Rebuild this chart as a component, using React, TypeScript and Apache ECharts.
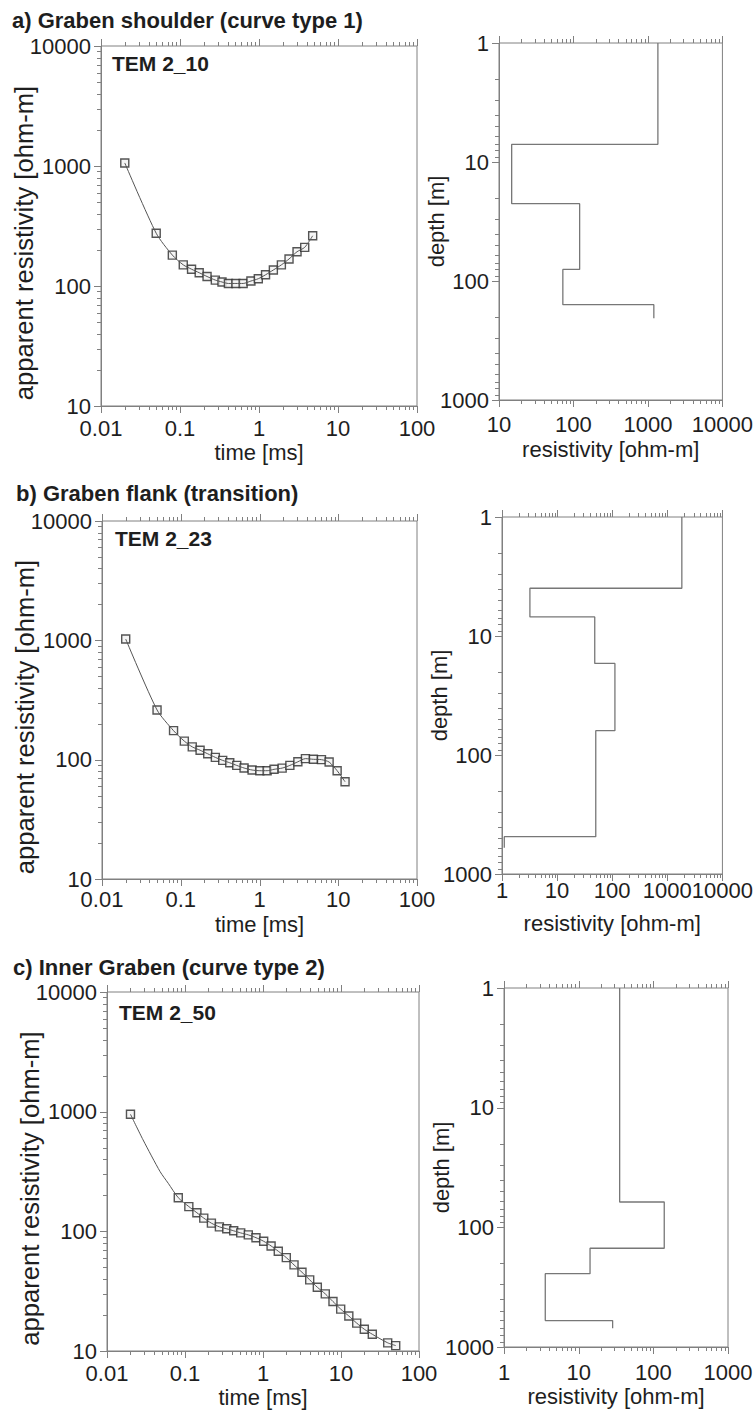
import React, { useEffect, useRef } from "react";
import * as echarts from "echarts";

const FONT = "'Liberation Sans', Arial, Helvetica, sans-serif";
const TEXT = "#1e1e1e";
const AXIS = "#808080";

// ---- panel a: TEM 2_10 ----
const timeA = [0.02, 0.05, 0.08, 0.11, 0.14, 0.175, 0.22, 0.28, 0.34, 0.41, 0.51, 0.63, 0.79, 0.98, 1.21, 1.52, 1.92, 2.4, 3.03, 3.79, 4.78];
const rhoA = [1060, 275, 181, 150, 138, 129, 120, 112, 108, 105, 105, 105, 110, 115, 124, 136, 150, 168, 193, 210, 262];
const layerResA = [1360, 14.8, 121, 72, 1200];
const layerBaseA = [7.1, 22.4, 80, 158, 206];

// ---- panel b: TEM 2_23 ----
const timeB = [0.02, 0.05, 0.081, 0.111, 0.14, 0.176, 0.22, 0.275, 0.341, 0.419, 0.514, 0.637, 0.805, 1.01, 1.25, 1.53, 1.94, 2.43, 3.07, 3.83, 4.84, 6.12, 7.66, 9.68, 12.2];
const rhoB = [1025, 261, 175, 143, 128, 120, 112, 104.5, 98.6, 94.2, 89.5, 85.1, 81.9, 80.8, 80.8, 83, 85, 89.5, 96, 102, 100.7, 100, 95.5, 80.8, 65.3];
const layerResB = [1835, 3.21, 48.2, 112, 50.3, 1.1];
const layerBaseB = [3.97, 6.92, 17.0, 62.5, 486, 601];

// ---- panel c: TEM 2_50 ----
const timeC = [0.02, 0.082, 0.112, 0.142, 0.174, 0.218, 0.276, 0.343, 0.421, 0.518, 0.648, 0.813, 1.02, 1.27, 1.57, 1.99, 2.5, 3.16, 3.97, 4.97, 6.29, 7.89, 9.91, 12.6, 15.9, 19.9, 25.2, 39.7, 50.3];
const rhoC = [951, 191, 161, 143, 129, 117, 109, 105, 101, 97, 93.4, 88.5, 82.6, 75.5, 68.2, 60.3, 52.4, 45.5, 39.3, 34.1, 30.0, 25.9, 22.4, 19.6, 17.1, 15.2, 13.8, 11.7, 11.1];
const modelEarlyTimeC = [0.02, 0.029, 0.048, 0.061];
const modelEarlyRhoC = [951, 581, 315, 252];
const layerResC = [35.4, 140, 14.2, 3.57, 28.5];
const layerBaseC = [61.4, 149.6, 244, 601, 697];

const panelTitles = ["a) Graben shoulder (curve type 1)", "b) Graben flank (transition)", "c) Inner Graben (curve type 2)"];
const stationNames = ["TEM 2_10", "TEM 2_23", "TEM 2_50"];
const timeRange = [0.01, 100];
const rhoAppRange = [10, 10000];
const depthRange = [1, 1000];
const resRanges = [[10, 10000], [1, 10000], [1, 1000]];

const xName = "time [ms]";
const yName = "apparent resistivity [ohm-m]";
const depthName = "depth [m]";
const resName = "resistivity [ohm-m]";

// layout (pixels)
const leftGrids = [
  { left: 101, top: 46, width: 316, height: 360 },
  { left: 102, top: 521, width: 315, height: 358 },
  { left: 107, top: 992, width: 312, height: 359 },
];
const rightGrids = [
  { left: 499, top: 43, width: 224, height: 357 },
  { left: 502, top: 517, width: 221, height: 357 },
  { left: 504, top: 988, width: 224, height: 359 },
];
const leftLabelMargin = [14, 12, 14];
const leftNameGap = [35, 34, 35];
const rightLabelMargin = [16, 8, 17];
const titlePos = [[12, 20], [16, 493], [13, 967]];
const stationPos = [[112, 63], [115, 538], [119, 1012]];

function zip(a: number[], b: number[]) {
  return a.map((v, i) => [v, b[i]]);
}
function stepProfile(res: number[], base: number[]) {
  const pts: number[][] = [];
  let top = 1;
  res.forEach((r, i) => {
    pts.push([r, top]);
    pts.push([r, base[i]]);
    top = base[i];
  });
  return pts;
}
function logTicks(min: number, max: number) {
  const out: { v: number; major: boolean }[] = [];
  const d0 = Math.round(Math.log10(min));
  const d1 = Math.round(Math.log10(max));
  for (let d = d0; d <= d1; d++) {
    for (let m = 1; m <= 9; m++) {
      const v = m * Math.pow(10, d);
      if (v > max * 1.0001) break;
      out.push({ v, major: m === 1 });
    }
  }
  return out;
}
function fmt(v: number) {
  const e = Math.round(Math.log10(v));
  return e < 0 ? v.toFixed(-e) : String(Math.round(v));
}

export default function App() {
  const ref = useRef<HTMLDivElement>(null);
  useEffect(() => {
    if (!ref.current) return;
    const chart = echarts.init(ref.current, undefined, { renderer: "svg" });

    const grids: any[] = [];
    const xAxes: any[] = [];
    const yAxes: any[] = [];
    const series: any[] = [];
    const graphics: any[] = [];

    const labelStyle = { color: TEXT, fontSize: 22, lineHeight: 16, fontFamily: FONT };
    const nameStyle = (size: number) => ({ color: TEXT, fontSize: size, fontFamily: FONT });

    const addTicks = (idx: number, xr: number[], yr: number[]) => {
      const data: number[][] = [];
      logTicks(xr[0], xr[1]).forEach((t) => data.push([t.v, yr[0], 0, t.major ? 1 : 0]));
      logTicks(yr[0], yr[1]).forEach((t) => data.push([xr[0], t.v, 1, t.major ? 1 : 0]));
      series.push({
        type: "custom",
        xAxisIndex: idx,
        yAxisIndex: idx,
        silent: true,
        clip: false,
        data,
        renderItem: (params: any, api: any) => {
          const cs = params.coordSys;
          const p = api.coord([api.value(0), api.value(1)]);
          const len = api.value(3) === 1 ? 7 : 4;
          const style = { stroke: AXIS, lineWidth: 1 };
          if (api.value(2) === 1) {
            const y = Math.round(p[1]) + 0.5;
            return { type: "line", shape: { x1: cs.x, y1: y, x2: cs.x - len, y2: y }, style };
          }
          const x = Math.round(p[0]) + 0.5;
          return {
            type: "group",
            children: [
              { type: "line", shape: { x1: x, y1: cs.y + cs.height, x2: x, y2: cs.y + cs.height + len }, style },
              { type: "line", shape: { x1: x, y1: cs.y, x2: x, y2: cs.y - len }, style },
            ],
          };
        },
      });
    };

    const curves = [
      { t: timeA, r: rhoA, model: zip(timeA, rhoA) },
      { t: timeB, r: rhoB, model: zip(timeB, rhoB) },
      { t: timeC, r: rhoC, model: zip(modelEarlyTimeC, modelEarlyRhoC).concat(zip(timeC, rhoC).slice(1)) },
    ];
    const layers = [
      stepProfile(layerResA, layerBaseA),
      stepProfile(layerResB, layerBaseB),
      stepProfile(layerResC, layerBaseC),
    ];

    for (let p = 0; p < 3; p++) {
      const li = p * 2;
      const ri = p * 2 + 1;
      // left grid
      grids.push({ ...leftGrids[p], show: true, borderColor: AXIS, borderWidth: 1, backgroundColor: "transparent" });
      xAxes.push({
        type: "log", gridIndex: li, min: timeRange[0], max: timeRange[1], logBase: 10,
        axisLine: { lineStyle: { color: AXIS } }, axisTick: { show: false }, splitLine: { show: false },
        axisLabel: { ...labelStyle, margin: leftLabelMargin[p], formatter: fmt },
        name: xName, nameLocation: "middle", nameGap: leftNameGap[p], nameMoveOverlap: false, nameTextStyle: nameStyle(22),
      });
      yAxes.push({
        type: "log", gridIndex: li, min: rhoAppRange[0], max: rhoAppRange[1], logBase: 10,
        axisLine: { lineStyle: { color: AXIS } }, axisTick: { show: false }, splitLine: { show: false },
        axisLabel: { ...labelStyle, margin: 10, formatter: fmt },
        name: yName, nameLocation: "middle", nameGap: 64, nameMoveOverlap: false,
        nameTextStyle: { ...nameStyle(25.6), padding: [0, 34, 0, 0] },
      });
      // right grid
      grids.push({ ...rightGrids[p], show: true, borderColor: AXIS, borderWidth: 1, backgroundColor: "transparent" });
      xAxes.push({
        type: "log", gridIndex: ri, min: resRanges[p][0], max: resRanges[p][1], logBase: 10,
        axisLine: { lineStyle: { color: AXIS } }, axisTick: { show: false }, splitLine: { show: false },
        axisLabel: { ...labelStyle, margin: rightLabelMargin[p], formatter: fmt },
        name: resName, nameLocation: "middle", nameGap: 38, nameMoveOverlap: false, nameTextStyle: nameStyle(22),
      });
      yAxes.push({
        type: "log", gridIndex: ri, min: depthRange[0], max: depthRange[1], logBase: 10, inverse: true,
        axisLine: { lineStyle: { color: AXIS } }, axisTick: { show: false }, splitLine: { show: false },
        axisLabel: { ...labelStyle, margin: 10, formatter: fmt },
        name: depthName, nameLocation: "middle", nameGap: 52, nameMoveOverlap: false, nameTextStyle: nameStyle(22),
      });

      addTicks(li, timeRange, rhoAppRange);
      addTicks(ri, resRanges[p], depthRange);

      series.push({
        type: "line", xAxisIndex: li, yAxisIndex: li, data: curves[p].model,
        showSymbol: false, smooth: 0.25, lineStyle: { color: "#555", width: 1 }, silent: true,
      });
      series.push({
        type: "scatter", xAxisIndex: li, yAxisIndex: li, data: zip(curves[p].t, curves[p].r),
        symbol: "rect", symbolSize: 8,
        itemStyle: { color: "#f2f2f2", borderColor: "#2a2a2a", borderWidth: 1.4 }, silent: true,
      });
      series.push({
        type: "line", xAxisIndex: ri, yAxisIndex: ri, data: layers[p],
        showSymbol: false, lineStyle: { color: "#777", width: 1.3 }, silent: true,
      });

      graphics.push({
        type: "text", x: titlePos[p][0], y: titlePos[p][1],
        style: { text: panelTitles[p], fill: TEXT, fontSize: 22, fontWeight: "bold", fontFamily: FONT, verticalAlign: "middle" },
      });
      graphics.push({
        type: "text", x: stationPos[p][0], y: stationPos[p][1],
        style: { text: stationNames[p], fill: TEXT, fontSize: 21, fontWeight: "bold", fontFamily: FONT, verticalAlign: "middle" },
      });
    }

    chart.setOption({
      animation: false,
      backgroundColor: "#ffffff",
      textStyle: { fontFamily: FONT },
      grid: grids,
      xAxis: xAxes,
      yAxis: yAxes,
      series,
      graphic: graphics,
    });
    return () => chart.dispose();
  }, []);
  return <div ref={ref} style={{ position: "absolute", left: 0, top: 0, width: 756, height: 1410 }} />;
}
